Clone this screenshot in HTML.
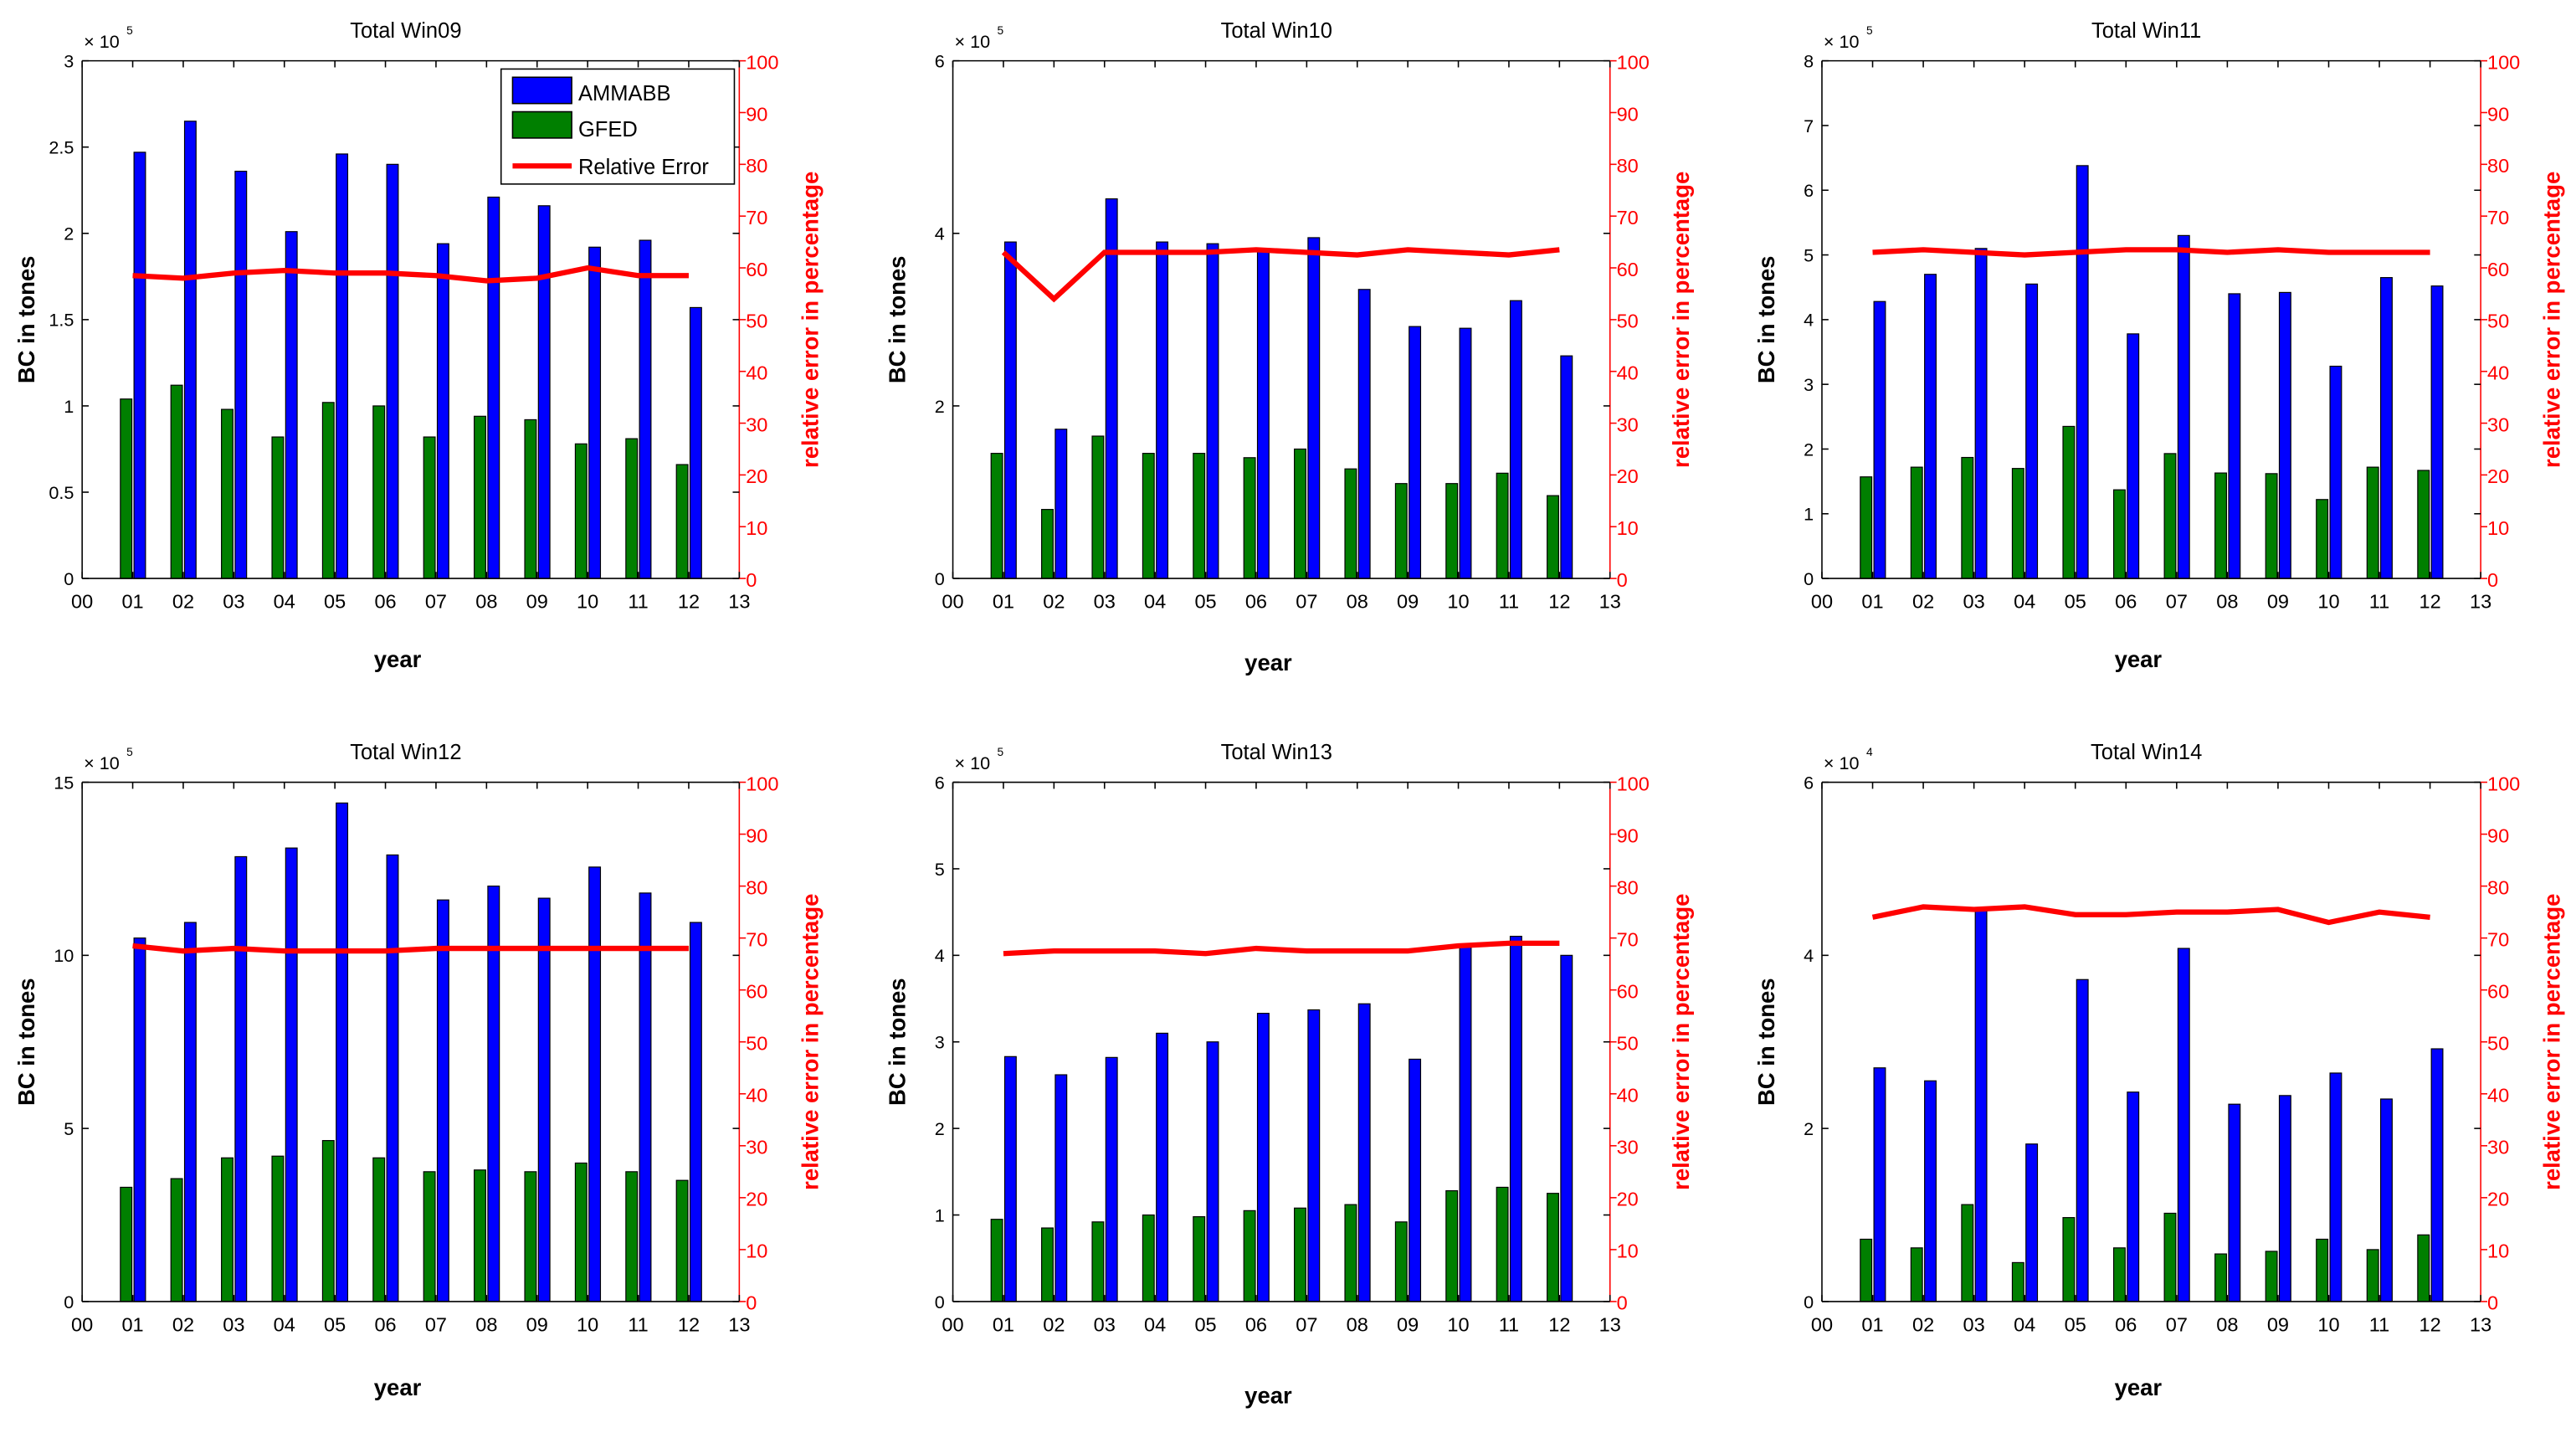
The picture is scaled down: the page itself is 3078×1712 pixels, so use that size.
<!DOCTYPE html>
<html><head><meta charset="utf-8">
<style>
html,body{margin:0;padding:0;background:#fff;}
svg{display:block;}
text{font-family:"Liberation Sans",sans-serif;}
</style></head>
<body>
<svg id="fig" width="3078" height="1712" viewBox="0 0 1568 872" preserveAspectRatio="none" xmlns="http://www.w3.org/2000/svg"></svg>
<script>
const years = ["00","01","02","03","04","05","06","07","08","09","10","11","12","13"];
const titles = ["Total Win09","Total Win10","Total Win11","Total Win12","Total Win13","Total Win14"];
const yMax = [3, 6, 8, 15, 6, 6];
const yStep = [0.5, 2, 1, 5, 1, 2];
const yExp = ["5","5","5","5","5","4"];
const blue09 = [2.47,2.65,2.36,2.01,2.46,2.40,1.94,2.21,2.16,1.92,1.96,1.57];
const green09 = [1.04,1.12,0.98,0.82,1.02,1.00,0.82,0.94,0.92,0.78,0.81,0.66];
const err09 = [58.5,58,59,59.5,59,59,58.5,57.5,58,60,58.5,58.5];
const blue10 = [3.9,1.73,4.4,3.9,3.88,3.8,3.95,3.35,2.92,2.9,3.22,2.58];
const green10 = [1.45,0.8,1.65,1.45,1.45,1.4,1.5,1.27,1.1,1.1,1.22,0.96];
const err10 = [63,54,63,63,63,63.5,63,62.5,63.5,63,62.5,63.5];
const blue11 = [4.28,4.7,5.1,4.55,6.38,3.78,5.3,4.4,4.42,3.28,4.65,4.52];
const green11 = [1.57,1.72,1.87,1.7,2.35,1.37,1.93,1.63,1.62,1.22,1.72,1.67];
const err11 = [63,63.5,63,62.5,63,63.5,63.5,63,63.5,63,63,63];
const blue12 = [10.5,10.95,12.85,13.1,14.4,12.9,11.6,12.0,11.65,12.55,11.8,10.95];
const green12 = [3.3,3.55,4.15,4.2,4.65,4.15,3.75,3.8,3.75,4.0,3.75,3.5];
const err12 = [68.5,67.5,68,67.5,67.5,67.5,68,68,68,68,68,68];
const blue13 = [2.83,2.62,2.82,3.1,3.0,3.33,3.37,3.44,2.8,4.1,4.22,4.0];
const green13 = [0.95,0.85,0.92,1.0,0.98,1.05,1.08,1.12,0.92,1.28,1.32,1.25];
const err13 = [67,67.5,67.5,67.5,67,68,67.5,67.5,67.5,68.5,69,69];
const blue14 = [2.7,2.55,4.55,1.82,3.72,2.42,4.08,2.28,2.38,2.64,2.34,2.92];
const green14 = [0.72,0.62,1.12,0.45,0.97,0.62,1.02,0.55,0.58,0.72,0.6,0.77];
const err14 = [74,76,75.5,76,74.5,74.5,75,75,75.5,73,75,74];
const errTicks = [0,10,20,30,40,50,60,70,80,90,100];

const blues = [blue09,blue10,blue11,blue12,blue13,blue14];
const greens = [green09,green10,green11,green12,green13,green14];
const errs = [err09,err10,err11,err12,err13,err14];

const NS = "http://www.w3.org/2000/svg";
const svg = document.getElementById("fig");
function mk(tag, attrs, parent, txt){
  const e = document.createElementNS(NS, tag);
  for (const k in attrs) e.setAttribute(k, attrs[k]);
  if (txt !== undefined) e.textContent = txt;
  (parent||svg).appendChild(e);
  return e;
}
const boxes = [
  {x0:50,x1:450,y0:37,y1:352,yearY:406},
  {x0:580,x1:980,y0:37,y1:352,yearY:408},
  {x0:1109,x1:1510,y0:37,y1:352,yearY:406},
  {x0:50,x1:450,y0:476,y1:792,yearY:849},
  {x0:580,x1:980,y0:476,y1:792,yearY:854},
  {x0:1109,x1:1510,y0:476,y1:792,yearY:849}
];
boxes.forEach((b,p)=>{
  const g = mk("g",{});
  
  
  const xs = i => b.x0 + (b.x1-b.x0)*i/13;
  const ys = v => b.y1 - (b.y1-b.y0)*v/yMax[p];
  const es = v => b.y1 - (b.y1-b.y0)*v/100;
  // bars
  for (let i=0;i<12;i++){
    const cx = xs(i+1);
    const gr = mk("rect",{x:cx-7.5,y:ys(greens[p][i]),width:7,height:b.y1-ys(greens[p][i]),fill:"#007f00",stroke:"#000","stroke-width":0.6},g);
    
    
    const bl = mk("rect",{x:cx+0.8,y:ys(blues[p][i]),width:7,height:b.y1-ys(blues[p][i]),fill:"#0000ff",stroke:"#000","stroke-width":0.6},g);
    
    
  }
  // axes box
  mk("line",{x1:b.x0,y1:b.y0,x2:b.x1,y2:b.y0,stroke:"#000","stroke-width":0.8},g);
  mk("line",{x1:b.x0,y1:b.y1,x2:b.x1,y2:b.y1,stroke:"#000","stroke-width":0.8},g);
  mk("line",{x1:b.x0,y1:b.y0,x2:b.x0,y2:b.y1,stroke:"#000","stroke-width":0.8},g);
  mk("line",{x1:b.x1,y1:b.y0,x2:b.x1,y2:b.y1,stroke:"#f00","stroke-width":0.8},g);
  // x ticks
  years.forEach((lab,i)=>{
    const x = xs(i);
    mk("line",{x1:x,y1:b.y0,x2:x,y2:b.y0+4,stroke:"#000","stroke-width":0.8},g);
    mk("line",{x1:x,y1:b.y1,x2:x,y2:b.y1-4,stroke:"#000","stroke-width":0.8},g);
    const t = mk("text",{x:x,y:b.y1+18,"text-anchor":"middle","font-size":12,fill:"#000"},g,lab);
    
    
  });
  // left y ticks
  for (let v=0; v<=yMax[p]+1e-9; v+=yStep[p]){
    const y = ys(v);
    mk("line",{x1:b.x0,y1:y,x2:b.x0+4,y2:y,stroke:"#000","stroke-width":0.8},g);
    mk("line",{x1:b.x1,y1:y,x2:b.x1-4,y2:y,stroke:"#000","stroke-width":0.8},g);
    const t = mk("text",{x:b.x0-5,y:y+4,"text-anchor":"end","font-size":11,fill:"#000"},g,String(Math.round(v*10)/10));
    
    
  }
  // right ticks
  errTicks.forEach(v=>{
    const y = es(v);
    mk("line",{x1:b.x1,y1:y,x2:b.x1+4,y2:y,stroke:"#f00","stroke-width":0.8},g);
    const t = mk("text",{x:b.x1+4,y:y+5,"font-size":12,fill:"#f00"},g,String(v));
    
    
  });
  // error line
  const pts = errs[p].map((v,i)=>xs(i+1)+","+es(v)).join(" ");
  const pl = mk("polyline",{points:pts,fill:"none",stroke:"#ff0000","stroke-width":3.2},g);
  
  
  // labels
  const tt = mk("text",{x:(b.x0+b.x1)/2-3,y:b.y0-14,"text-anchor":"middle","font-size":13,fill:"#000"},g,titles[p]);
  
  
  const ex = mk("text",{x:b.x0+1,y:b.y0-8,"font-size":11,fill:"#000"},g,"× 10");
  
  
  mk("text",{x:b.x0+27,y:b.y0-16,"font-size":7,fill:"#000"},g,yExp[p]);
  const yl = mk("text",{x:0,y:0,"text-anchor":"middle","font-size":14,"font-weight":"bold",fill:"#000",transform:`translate(${b.x0-29},${(b.y0+b.y1)/2}) rotate(-90)`},g,"BC in tones");
  
  
  const rl = mk("text",{x:0,y:0,"text-anchor":"middle","font-size":14,"font-weight":"bold",fill:"#f00",transform:`translate(${b.x1+48},${(b.y0+b.y1)/2}) rotate(-90)`},g,"relative error in percentage");
  
  
  const xl = mk("text",{x:(b.x0+b.x1)/2-8,y:b.yearY,"text-anchor":"middle","font-size":14,"font-weight":"bold",fill:"#000"},g,"year");
  
  
});
// legend
const lg = mk("g",{});


mk("rect",{x:305,y:42,width:142,height:70,fill:"#fff",stroke:"#000","stroke-width":0.8},lg);
mk("rect",{x:312,y:47,width:36,height:16,fill:"#0000ff",stroke:"#000","stroke-width":0.8},lg);
mk("rect",{x:312,y:68,width:36,height:16,fill:"#007f00",stroke:"#000","stroke-width":0.8},lg);
mk("line",{x1:312,y1:101,x2:348,y2:101,stroke:"#f00","stroke-width":3.2},lg);
const l1 = mk("text",{x:352,y:61,"font-size":13},lg,"AMMABB");


const l2 = mk("text",{x:352,y:83,"font-size":13},lg,"GFED");


const l3 = mk("text",{x:352,y:106,"font-size":13},lg,"Relative Error");


</script>
</body></html>
